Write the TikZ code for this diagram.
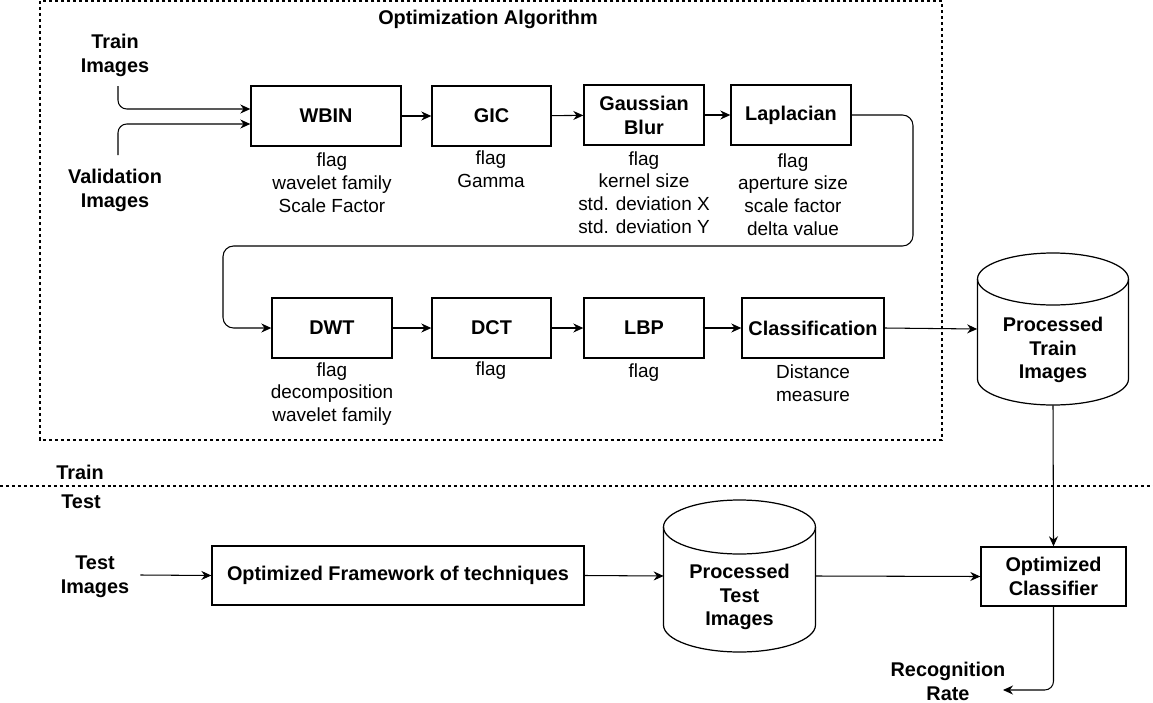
\documentclass[tikz,border=0pt]{standalone}
\usepackage{fontspec}
\setmainfont{Liberation Sans}
\usetikzlibrary{arrows.meta}

\tikzset{
  blk/.style={draw, line width=0.8pt, minimum height=1.2cm, inner sep=2pt, align=center, font=\bfseries\fontsize{11.3}{13.6}\selectfont},
  note/.style={align=center, font=\fontsize{10.8}{13}\selectfont},
  lbl/.style={align=center, yshift=-0.04cm, font=\bfseries\fontsize{11.3}{13.6}\selectfont},
  arr/.style={line width=0.6pt, -{Stealth[length=2mm, width=1.8mm]}},
  area/.style={minimum width=3.02cm, minimum height=3.04cm, inner sep=0pt},
  cyl/.style={line width=0.7pt},
}

\begin{document}
\begin{tikzpicture}[x=0.02cm, y=-0.02cm]
            \useasboundingbox (0,0) rectangle (1153,703);

            %frames
            \draw[dash pattern=on 1.7pt off 1.7pt, line width=0.6pt] (40,1) rectangle (942,440);
            \draw[dash pattern=on 1.7pt off 1.7pt, line width=0.6pt] (0,486) -- (1153,486);
            \node[lbl] (title) at (488,17) {Optimization Algorithm};
            \node[lbl] (trainside) at (80,470) {Train};
            \node[lbl] (testside) at (81,500) {Test};

            %inputs
            \node[lbl] (trainimg) at (115,53) {Train\\Images};
            \node[lbl] (validimg) at (115,188) {Validation\\Images};
            \node[lbl] (testimg) at (95,575) {Test\\Images};
            \coordinate (trainout) at (118,86);
            \coordinate (validout) at (118,155);

            %first row
            \node[blk, minimum width=3cm] (wbin) at (326,116) {WBIN};
            \node[blk, minimum width=2.38cm] (gic) at (491.5,116) {GIC};
            \node[blk, minimum width=2.4cm] (gauss) at (644,115) {Gaussian\\Blur};
            \node[blk, minimum width=2.4cm] (lap) at (791,115) {Laplacian};

            %second row
            \node[blk, minimum width=2.4cm] (dwt) at (332,328) {DWT};
            \node[blk, minimum width=2.38cm] (dct) at (491.5,328) {DCT};
            \node[blk, minimum width=2.4cm] (lbp) at (644,328) {LBP};
            \node[blk, minimum width=2.84cm] (clas) at (813,328) {Classification};

            %parameters
            \node[note] (wbinpar) at (332,183) {flag\\wavelet family\\Scale Factor};
            \node[note] (gicpar) at (491,169.5) {flag\\Gamma};
            \node[note] (gausspar) at (644,192.5) {flag\\kernel size\\std. deviation X\\std. deviation Y};
            \node[note] (lappar) at (793,194.5) {flag\\aperture size\\scale factor\\delta value};
            \node[note] (dwtpar) at (332,394) {flag\\decomposition\\wavelet family};
            \node[note] (dctpar) at (491,371) {flag};
            \node[note] (lbppar) at (644,373) {flag};
            \node[note] (claspar) at (813,383.5) {Distance\\measure};

            %databases
            \node[area] (ptrain) at (1053,329) {};
            \draw[cyl] (977.5,279) arc[start angle=180, end angle=-180, x radius=1.51cm, y radius=0.52cm];
            \draw[cyl] (977.5,279) -- (977.5,379) arc[start angle=180, end angle=360, x radius=1.51cm, y radius=0.52cm] -- (1128.5,279);
            \node[lbl] (ptraintxt) at (1053,348) {Processed\\Train\\Images};

            \node[area] (ptest) at (739.5,576) {};
            \draw[cyl] (663.5,527) arc[start angle=180, end angle=-180, x radius=1.52cm, y radius=0.54cm];
            \draw[cyl] (663.5,527) -- (663.5,625) arc[start angle=180, end angle=360, x radius=1.52cm, y radius=0.54cm] -- (815.5,527);
            \node[lbl] (ptesttxt) at (739.5,595) {Processed\\Test\\Images};

            %test path
            \node[blk, minimum width=7.44cm, minimum height=1.18cm] (frame) at (398,575.5) {Optimized Framework of techniques};
            \node[blk, minimum width=2.9cm, minimum height=1.18cm] (ocls) at (1053.5,576.5) {Optimized\\Classifier};
            \node[lbl] (rate) at (948,679) {Recognition\\Rate};
            \coordinate (ratein) at (1003,690);

            %arrows
            \draw[arr, rounded corners=5pt] (trainout) |- ([yshift=0.14cm]wbin.west);
            \draw[arr, rounded corners=5pt] (validout) |- ([yshift=-0.16cm]wbin.west);
            \draw[arr] (wbin) -- (gic);
            \draw[arr] (gic) -- (gauss);
            \draw[arr] (gauss) -- (lap);
            \draw[arr, rounded corners=6pt] (lap.east) -| (913,246) -| (223,328) -- (dwt.west);
            \draw[arr] (dwt) -- (dct);
            \draw[arr] (dct) -- (lbp);
            \draw[arr] ([xshift=-0.04cm]lbp.east) -- (clas.west);
            \draw[arr] (clas.east) -- (ptrain.west);
            \draw[arr] (ptrain.south) -- (ocls.north);
            \draw[arr] ([xshift=0.1cm, yshift=0.04cm]testimg.east) -- (frame.west);
            \draw[arr] (frame.east) -- (ptest.west);
            \draw[arr] (ptest.east) -- (ocls.west);
            \draw[arr, rounded corners=5pt] (ocls.south) |- (ratein);
        \end{tikzpicture}
\end{document}
